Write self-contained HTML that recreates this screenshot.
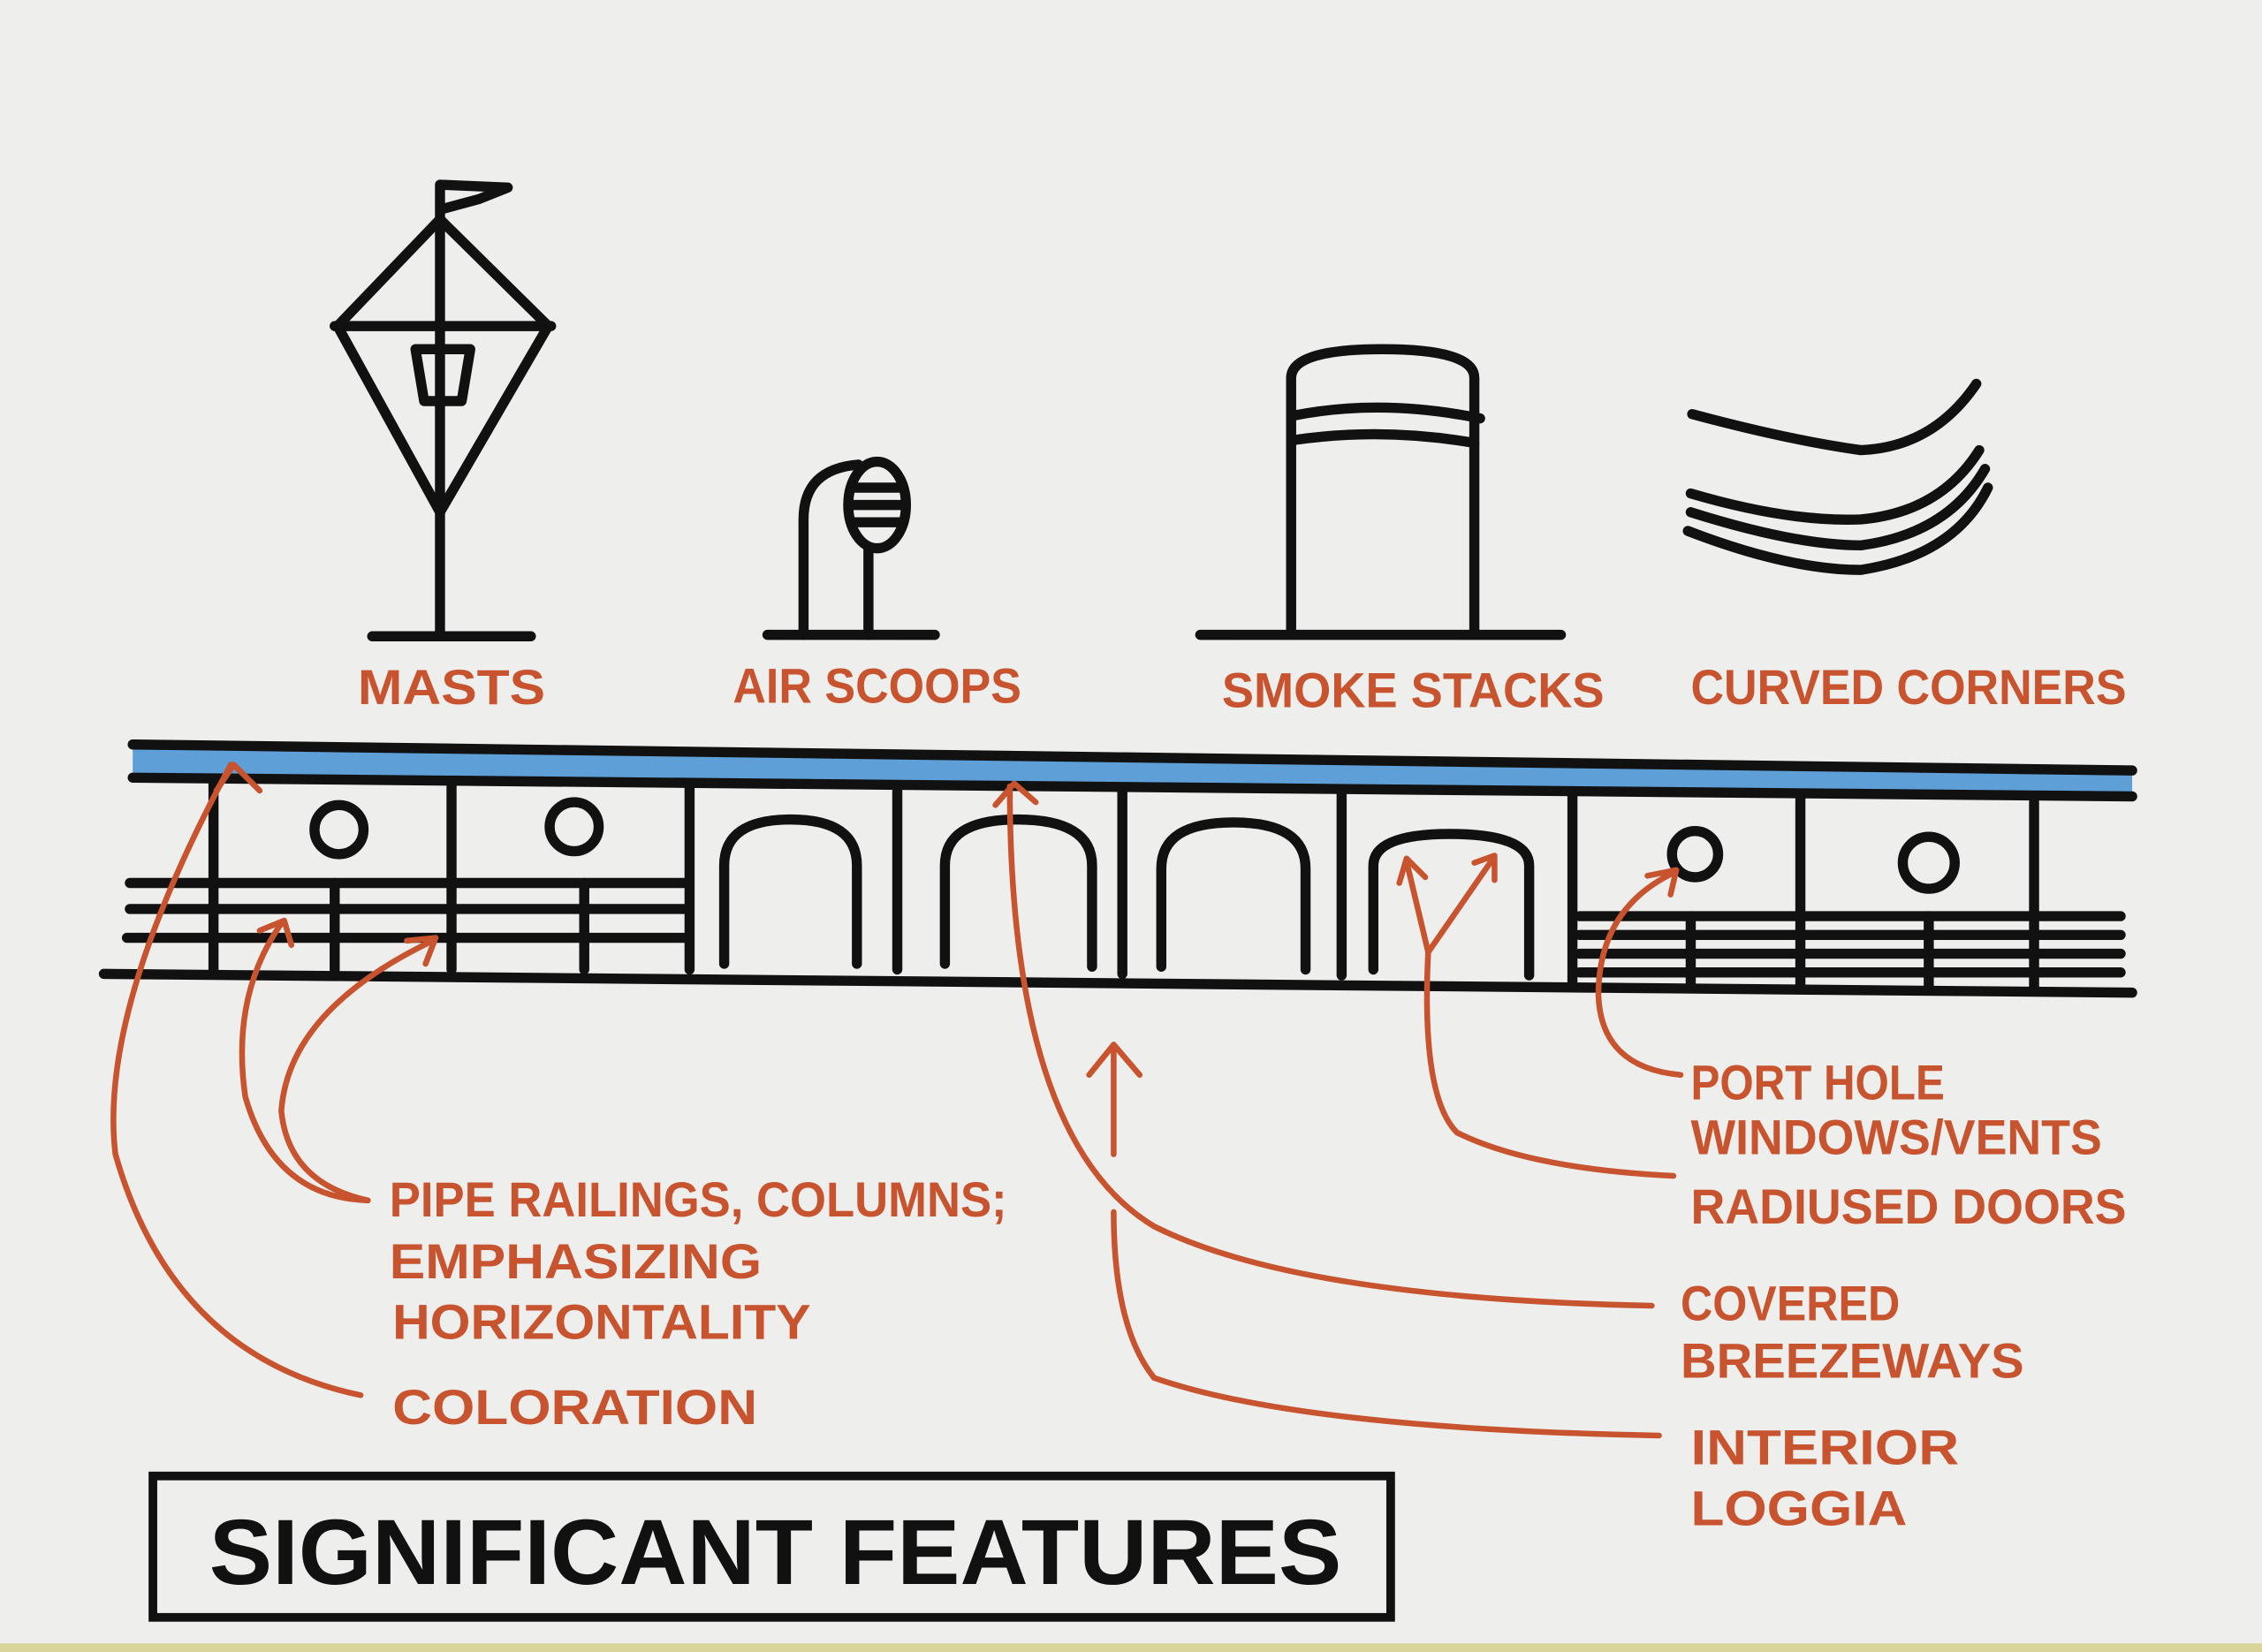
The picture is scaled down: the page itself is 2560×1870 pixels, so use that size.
<!DOCTYPE html>
<html><head><meta charset="utf-8"><style>
html,body{margin:0;padding:0;background:#eeeeec;}
svg{display:block}
text{font-family:"Liberation Sans Narrow","Liberation Sans",sans-serif;font-weight:bold;}
.k{fill:none;stroke:#111;stroke-width:7;stroke-linecap:round;stroke-linejoin:round}
.r{fill:none;stroke:#c7532f;stroke-width:4;stroke-linecap:round;stroke-linejoin:round}
.t{fill:#c7532f;font-size:34px}
</style></head><body>
<svg width="2560" height="1870" viewBox="0 0 1568 1145" preserveAspectRatio="none">
<rect width="1568" height="1145" fill="#eeeeec"/>
<rect y="1139" width="1568" height="6" fill="#d8d49a"/>
<g class="k">
<path d="M305 440V128 L352 130 L332 138 L306 145"/>
<path d="M258 441H368"/>
<path d="M232 226H382"/>
<path d="M305 152 L234 226 L305 355 L380 226 Z"/>
<path d="M288 242H326L320 278H294Z"/>
</g>
<g class="k">
<path d="M532 440H648"/>
<path d="M557 440V360 Q557 325 595 322"/>
<ellipse cx="608" cy="350" rx="20" ry="30"/>
<path d="M590 338H626M589 350H627M590 362H626"/>
<path d="M602 380V440"/>
</g>
<g class="k">
<path d="M832 440H1082"/>
<path d="M895 438V262 Q895 242 958 242 Q1022 242 1022 262V438"/>
<path d="M897 288Q958 276 1026 290M897 305Q958 296 1022 307"/>
</g>
<g class="k">
<path d="M1173 287 Q1240 305 1290 312 Q1340 310 1370 266"/>
<path d="M1172 342 Q1240 362 1290 360 Q1345 355 1372 312"/>
<path d="M1172 355 Q1245 378 1290 378 Q1350 370 1376 325"/>
<path d="M1170 368 Q1240 395 1290 395 Q1355 385 1378 338"/>
</g>
<text class="t" x="248" y="488" textLength="130" lengthAdjust="spacingAndGlyphs">MASTS</text>
<text class="t" x="508" y="487" textLength="200" lengthAdjust="spacingAndGlyphs">AIR SCOOPS</text>
<text class="t" x="847" y="490" textLength="265" lengthAdjust="spacingAndGlyphs">SMOKE STACKS</text>
<text class="t" x="1172" y="488" textLength="302" lengthAdjust="spacingAndGlyphs">CURVED CORNERS</text>
<path d="M92 516 L1478 532 L1478 552 L92 538Z" fill="#5e9fd8"/>
<g class="k">
<path d="M92 516 L1478 534"/>
<path d="M92 539 L1478 552"/>
<path d="M72 675 L1478 688"/>
<path d="M90 612H475M90 630H475M88 650H475"/>
<path d="M148 540V672M313 542V672M478 544V672M622 546V672M778 548V675M930 550V676M1090 552V680M1248 554V684M1410 556V686"/>
<path d="M232 612V672M405 612V672"/>
<circle cx="235" cy="575" r="17"/><circle cx="398" cy="573" r="17"/>
<path d="M502 668V600Q502 568 548 568Q594 568 594 600V668"/>
<path d="M655 668V600Q655 568 705 568Q757 568 757 600V670"/>
<path d="M805 670V602Q805 570 855 570Q905 570 905 602V672"/>
<path d="M952 672V600Q952 578 1005 578Q1060 578 1060 600V676"/>
<path d="M1095 635H1470M1095 648H1470M1095 661H1470M1095 674H1470"/>
<path d="M1172 635V684M1337 635V684"/>
<circle cx="1175" cy="592" r="16"/><circle cx="1337" cy="598" r="18"/>
</g>
<g class="r">
<path d="M250 967 Q120 940 80 800 Q68 700 160 530"/><path d="M150 548 L162 530 L180 548"/>
<path d="M255 832 Q190 830 170 760 Q160 690 195 640"/><path d="M180 645 L197 638 L202 655"/>
<path d="M255 832 Q200 820 195 770 Q200 700 300 652"/><path d="M282 652 L302 650 L295 668"/>
<path d="M1145 905 Q900 900 800 850 Q700 790 700 545"/><path d="M690 558 L703 543 L718 556"/>
<path d="M1150 995 Q900 990 800 955 Q772 920 772 840"/><path d="M772 800 V725"/><path d="M755 745 L772 724 L790 745"/>
<path d="M1160 815 Q1060 810 1010 785 Q985 760 990 660 L975 597 M990 660 L1035 595"/>
<path d="M970 612 L975 595 L988 608 M1022 598 L1036 593 L1036 610"/>
<path d="M1165 745 Q1110 740 1108 690 Q1108 630 1160 605"/><path d="M1142 607 L1162 603 L1158 620"/>
</g>
<text class="t" x="270" y="843" textLength="428" lengthAdjust="spacingAndGlyphs">PIPE RAILINGS, COLUMNS;</text>
<text class="t" x="270" y="886" textLength="258" lengthAdjust="spacingAndGlyphs">EMPHASIZING</text>
<text class="t" x="272" y="928" textLength="290" lengthAdjust="spacingAndGlyphs">HORIZONTALITY</text>
<text class="t" x="272" y="987" textLength="253" lengthAdjust="spacingAndGlyphs">COLORATION</text>
<text class="t" x="1172" y="762" textLength="176" lengthAdjust="spacingAndGlyphs">PORT HOLE</text>
<text class="t" x="1172" y="800" textLength="285" lengthAdjust="spacingAndGlyphs">WINDOWS/VENTS</text>
<text class="t" x="1172" y="848" textLength="302" lengthAdjust="spacingAndGlyphs">RADIUSED DOORS</text>
<text class="t" x="1165" y="915" textLength="152" lengthAdjust="spacingAndGlyphs">COVERED</text>
<text class="t" x="1165" y="955" textLength="238" lengthAdjust="spacingAndGlyphs">BREEZEWAYS</text>
<text class="t" x="1172" y="1015" textLength="186" lengthAdjust="spacingAndGlyphs">INTERIOR</text>
<text class="t" x="1172" y="1057" textLength="150" lengthAdjust="spacingAndGlyphs">LOGGIA</text>
<rect x="106" y="1023" width="858" height="98" fill="none" stroke="#111" stroke-width="6"/>
<text x="145" y="1098" font-size="64" fill="#111" textLength="785" lengthAdjust="spacingAndGlyphs">SIGNIFICANT  FEATURES</text>
</svg>
</body></html>
